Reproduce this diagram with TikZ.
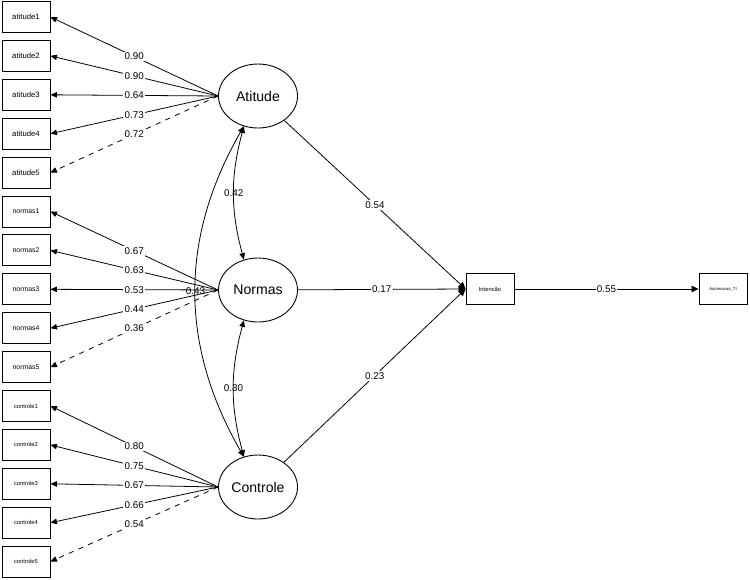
\documentclass[tikz,border=0pt]{standalone}
\usepackage{fontspec}
\setmainfont{Liberation Sans}
\usetikzlibrary{arrows.meta, shapes.geometric}
\tikzset{
  manifest/.style={rectangle, draw, fill=white, line width=0.5pt,
                   minimum width=0.96cm, minimum height=0.62cm, inner sep=0pt},
  latent/.style={ellipse, draw, fill=white, line width=0.5pt,
                 minimum width=1.58cm, minimum height=1.28cm, inner sep=0pt,
                 font=\fontsize{8}{9}\selectfont},
  loading/.style={-{Triangle[length=1.3mm, width=1.1mm]}, line width=0.45pt},
  regress/.style={-{Triangle[length=1.4mm, width=1.3mm]}, line width=0.45pt},
  covar/.style={{Triangle[length=1.3mm, width=1.1mm]}-{Triangle[length=1.3mm, width=1.1mm]}, line width=0.45pt},
  coef/.style={fill=white, inner sep=0.8pt, font=\fontsize{5.6}{6}\selectfont},
}

\begin{document}
\begin{tikzpicture}[x=0.02cm, y=-0.02cm]
  \useasboundingbox (0,0) rectangle (750,579);

  % Latent variables
  \node[latent] (Atitude) at (258,96) {Atitude};
  \node[latent] (Normas) at (258,290) {Normas};
  \node[latent] (Controle) at (258,487) {Controle};

  % Observed outcomes
  \node[manifest, font=\fontsize{3.3}{4}\selectfont] (Intencao) at (490,289) {Intencão};
  \node[manifest, font=\fontsize{2.4}{3}\selectfont] (Automacao) at (723,289) {Automacao\_TI};

  % Indicators
  \foreach \k in {1,...,5} {
    \node[manifest, font=\fontsize{4.4}{5}\selectfont] (atitude\k) at (26,{17+38.9*(\k-1)}) {atitude\k};
    \node[manifest, font=\fontsize{3.9}{5}\selectfont] (normas\k) at (26,{211.5+38.9*(\k-1)}) {normas\k};
    \node[manifest, font=\fontsize{3.3}{4}\selectfont] (controle\k) at (26,{406+38.9*(\k-1)}) {controle\k};
  }

  % Loadings
  \foreach \k/\v in {1/0.90, 2/0.90, 3/0.64, 4/0.73}
    \draw[loading] (Atitude.west) -- node[coef] {\v} (atitude\k.east);
  \draw[loading, dashed] (Atitude.west) -- node[coef] {0.72} (atitude5.east);

  \foreach \k/\v in {1/0.67, 2/0.63, 3/0.53, 4/0.44}
    \draw[loading] (Normas.west) -- node[coef] {\v} (normas\k.east);
  \draw[loading, dashed] (Normas.west) -- node[coef] {0.36} (normas5.east);

  \foreach \k/\v in {1/0.80, 2/0.75, 3/0.67, 4/0.66}
    \draw[loading] (Controle.west) -- node[coef] {\v} (controle\k.east);
  \draw[loading, dashed] (Controle.west) -- node[coef] {0.54} (controle5.east);

  % Covariances
  \draw[covar] (Atitude.245) to[bend right=15] node[coef, fill=none] {0.42} (Normas.115);
  \draw[covar] (Normas.245) to[bend right=15] node[coef, fill=none] {0.30} (Controle.115);
  \draw[covar] (Atitude.245) to[bend right=30] node[coef, fill=none] {0.43} (Controle.115);

  % Structural paths
  \draw[regress] (Atitude) -- node[coef] {0.54} (Intencao.west);
  \draw[regress] (Normas) -- node[coef] {0.17} (Intencao.west);
  \draw[regress] (Controle) -- node[coef] {0.23} (Intencao.west);
  \draw[regress] (Intencao) -- node[coef] {0.55} (Automacao);

\end{tikzpicture}
\end{document}
